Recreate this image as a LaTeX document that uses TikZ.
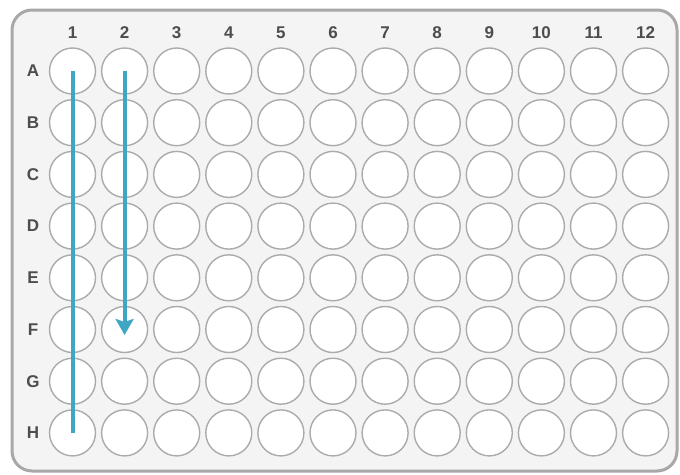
\documentclass[tikz,border=0pt]{standalone}
\usepackage{fontspec}
\setmainfont{Liberation Sans}
\newfontfamily\lblfont{Liberation Sans Bold}
\usetikzlibrary{arrows.meta,calc}
\definecolor{plateborder}{HTML}{A8A8A8}
\definecolor{platefill}{HTML}{F4F4F4}
\definecolor{wellline}{HTML}{ABABAB}
\definecolor{labelgray}{HTML}{4D4D4D}
\definecolor{pathblue}{HTML}{3FA6C4}
\tikzset{
  well/.style={circle, draw=wellline, fill=white, line width=1.4pt, minimum size=46pt, inner sep=0pt},
  lbl/.style={text=labelgray, font=\lblfont\fontsize{17}{17}\selectfont, inner sep=0pt},
  pathline/.style={draw=pathblue, line width=4pt}
}
\begin{document}
\begin{tikzpicture}[x=1pt,y=-1pt]
\useasboundingbox (0,0) rectangle (680,474);
\draw[draw=plateborder, fill=platefill, line width=3pt, rounded corners=20pt] (12,10) rectangle (677,471);
\foreach \c in {1,...,12} {
  \node[lbl] (col\c) at ({72.5+(\c-1)*52.1},33) {\c};
}
\foreach \r [count=\i from 0] in {A,B,C,D,E,F,G,H} {
  \node[lbl] (row\r) at (33,{71+\i*51.7}) {\r};
  \foreach \c in {1,...,12} {
    \node[well] (w-\r\c) at ({72.5+(\c-1)*52.1},{71+\i*51.7}) {};
  }
}
\draw[pathline] (w-A1.center) -- (w-H1.center);
\coordinate (tip) at ($(w-F2.center)+(0,5.5)$);
\draw[pathline, -{Stealth[length=16pt,width=18pt,inset=3pt]}] (w-A2.center) -- (tip);
\end{tikzpicture}
\end{document}
